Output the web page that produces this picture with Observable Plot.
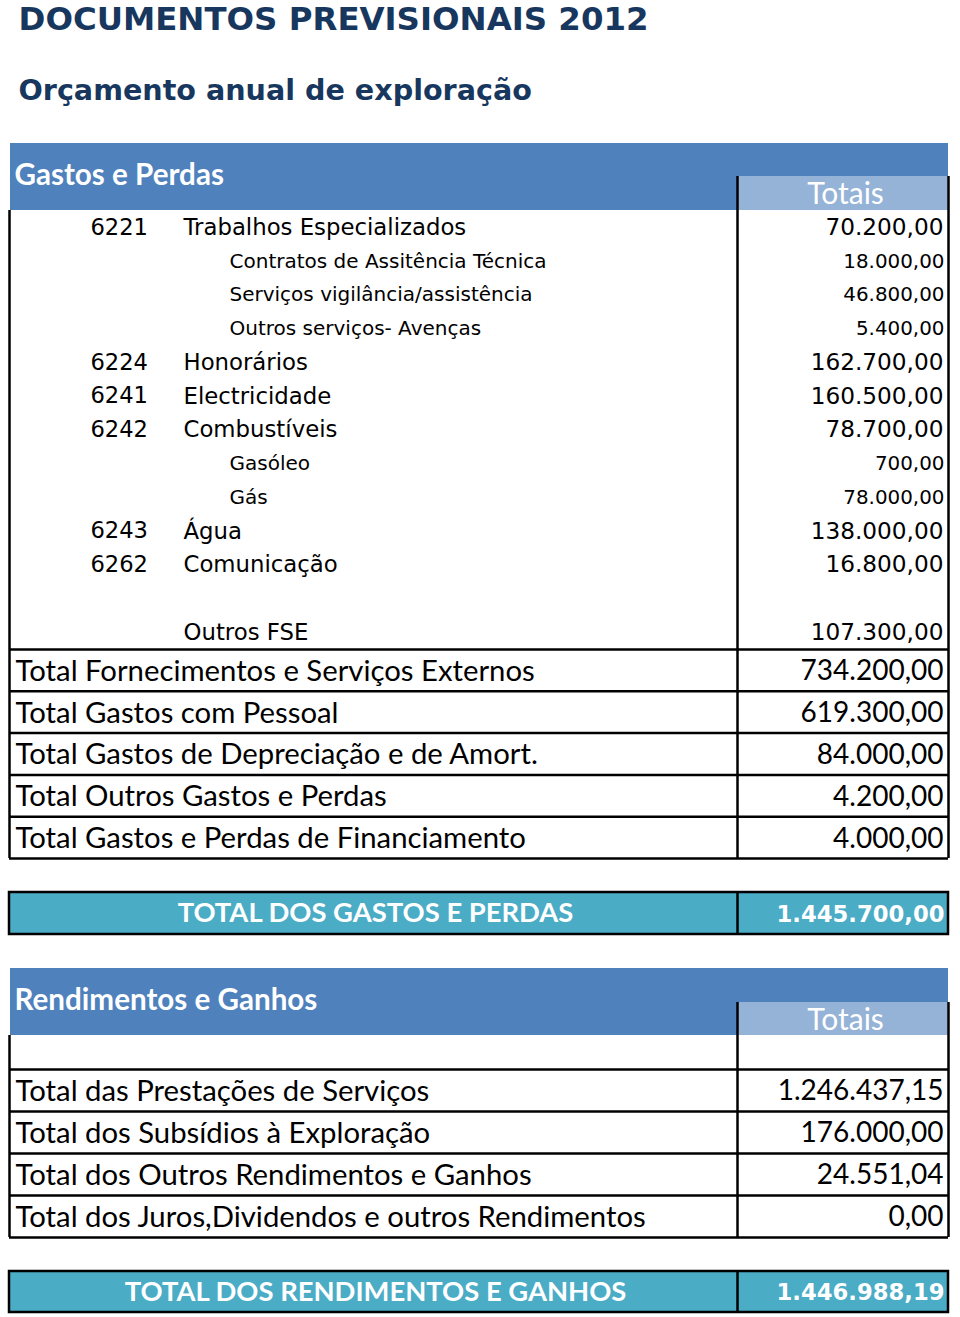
<!DOCTYPE html>
<html>
<head>
<meta charset="utf-8">
<script src="https://cdn.jsdelivr.net/npm/d3@7"></script>
<script src="https://cdn.jsdelivr.net/npm/@observablehq/plot@0.6"></script>
<style>
  html, body { margin: 0; padding: 0; background: #fff; }
  #chart svg { display: block; }
</style>
</head>
<body>
<div id="chart"></div>
<script>
// ---------- DATA ----------
const title = "DOCUMENTOS PREVISIONAIS 2012";
const subtitle = "Orçamento anual de exploração";

const gastosHeader = "Gastos e Perdas";
const rendHeader = "Rendimentos e Ganhos";
const totaisLabel = "Totais";

const detailCodes = ["6221", "", "", "", "6224", "6241", "6242", "", "", "6243", "6262", "", ""];
const detailLabels = [
  "Trabalhos Especializados",
  "Contratos de Assitência Técnica",
  "Serviços vigilância/assistência",
  "Outros serviços- Avenças",
  "Honorários",
  "Electricidade",
  "Combustíveis",
  "Gasóleo",
  "Gás",
  "Água",
  "Comunicação",
  "",
  "Outros FSE"
];
const detailLevel = [1, 2, 2, 2, 1, 1, 1, 2, 2, 1, 1, 1, 1];
const detailValues = [70200, 18000, 46800, 5400, 162700, 160500, 78700, 700, 78000, 138000, 16800, null, 107300];

const gastosTotalLabels = [
  "Total Fornecimentos e Serviços Externos",
  "Total Gastos com Pessoal",
  "Total Gastos de Depreciação e de Amort.",
  "Total Outros Gastos e Perdas",
  "Total Gastos e Perdas de Financiamento"
];
const gastosTotalValues = [734200, 619300, 84000, 4200, 4000];

const grandGastosLabel = "TOTAL DOS GASTOS E PERDAS";
const grandGastosValue = 1445700;

const rendLabels = [
  "Total das Prestações de Serviços",
  "Total dos Subsídios à Exploração",
  "Total dos Outros Rendimentos e Ganhos",
  "Total dos Juros,Dividendos e outros Rendimentos"
];
const rendValues = [1246437.15, 176000, 24551.04, 0];

const grandRendLabel = "TOTAL DOS RENDIMENTOS E GANHOS";
const grandRendValue = 1446988.19;

// ---------- LAYOUT ----------
const W = 960, H = 1317;
const L = {
  left: 9, div: 737, right: 948, valRight: 943,
  codeX: 90, lab1X: 183, lab2X: 229, totX: 15, totCenter: 845,
  g: { bandTop: 143, bandBot: 210, totTop: 176 },
  detailTop: 227, detailStep: 33.75,
  totTop: 649, totStep: 41.8,
  gg: { top: 892, bot: 934 },
  r: { bandTop: 968, bandBot: 1035, totTop: 1002, blankBot: 1069, step: 42 },
  rg: { top: 1271, bot: 1312 }
};
const navy = "#17375e", blue = "#4f81bd", light = "#95b3d7", teal = "#4bacc6";
const verdana = "DejaVu Sans, Verdana, sans-serif";
const calibri = "Lato, Carlito, Calibri, sans-serif";

const loc = d3.formatLocale({decimal: ",", thousands: ".", grouping: [3], currency: ["", ""]});
const fmt = loc.format(",.2f");

const detailY = i => L.detailTop + i * L.detailStep;
const totLine = i => L.totTop + i * L.totStep;
const totY = i => totLine(i) + L.totStep / 2;
const rLine = i => L.r.blankBot + i * L.r.step;
const rY = i => rLine(i) + L.r.step / 2;

const nTot = gastosTotalLabels.length, nR = rendLabels.length;
const gBottom = totLine(nTot);
const rBottom = rLine(nR);

const one = [{}];
const detailRows = detailLabels.map((label, i) => ({i, label, code: detailCodes[i], level: detailLevel[i], value: detailValues[i]}));

const plot = Plot.plot({
  width: W, height: H,
  margin: 0,
  x: {domain: [0, W], range: [0, W], axis: null},
  y: {domain: [0, H], range: [0, H], axis: null},
  style: {background: "#fff"},
  marks: [
    // title & subtitle
    Plot.text([title], {x: 18, y: 19.5, text: d => d, textAnchor: "start", fontFamily: verdana, fontWeight: "bold", fontSize: 32.4, fill: navy}),
    Plot.text([subtitle], {x: 18, y: 90, text: d => d, textAnchor: "start", fontFamily: verdana, fontWeight: "bold", fontSize: 28.6, fill: navy}),

    // header bands
    Plot.rect(one, {x1: L.left + 1, x2: L.right, y1: L.g.bandTop, y2: L.g.bandBot, fill: blue}),
    Plot.rect(one, {x1: L.div, x2: L.right, y1: L.g.totTop, y2: L.g.bandBot, fill: light}),
    Plot.rect(one, {x1: L.left + 1, x2: L.right, y1: L.r.bandTop, y2: L.r.bandBot, fill: blue}),
    Plot.rect(one, {x1: L.div, x2: L.right, y1: L.r.totTop, y2: L.r.bandBot, fill: light}),
    Plot.text([gastosHeader], {x: L.totX - 1, y: (L.g.bandTop + L.g.bandBot) / 2 - 1, text: d => d, textAnchor: "start", fontFamily: calibri, fontWeight: "bold", fontSize: 29.6, fill: "#fff"}),
    Plot.text([rendHeader], {x: L.totX - 1, y: (L.r.bandTop + L.r.bandBot) / 2 - 1, text: d => d, textAnchor: "start", fontFamily: calibri, fontWeight: "bold", fontSize: 29.6, fill: "#fff"}),
    Plot.text([totaisLabel], {x: L.totCenter, y: (L.g.totTop + L.g.bandBot) / 2 + 1, text: d => d, fontFamily: calibri, fontSize: 30, fill: "#fff"}),
    Plot.text([totaisLabel], {x: L.totCenter, y: (L.r.totTop + L.r.bandBot) / 2 + 1, text: d => d, fontFamily: calibri, fontSize: 30, fill: "#fff"}),

    // detail rows
    Plot.text(detailRows.filter(d => d.code), {x: L.codeX, y: d => detailY(d.i), text: "code", textAnchor: "start", fontFamily: verdana, fontSize: 22.6, fill: "#000"}),
    Plot.text(detailRows.filter(d => d.level === 1 && d.label), {x: L.lab1X, y: d => detailY(d.i), text: "label", textAnchor: "start", fontFamily: verdana, fontSize: 22.8, fill: "#000"}),
    Plot.text(detailRows.filter(d => d.level === 2), {x: L.lab2X, y: d => detailY(d.i), text: "label", textAnchor: "start", fontFamily: verdana, fontSize: 20, fill: "#000"}),
    Plot.text(detailRows.filter(d => d.value != null && d.level === 1), {x: L.valRight, y: d => detailY(d.i), text: d => fmt(d.value), textAnchor: "end", fontFamily: verdana, fontSize: 23.2, fill: "#000"}),
    Plot.text(detailRows.filter(d => d.value != null && d.level === 2), {x: L.valRight + 1, y: d => detailY(d.i), text: d => fmt(d.value), textAnchor: "end", fontFamily: verdana, fontSize: 19.9, fill: "#000"}),

    // gastos total rows
    Plot.text(gastosTotalLabels, {x: L.totX, y: (d, i) => totY(i) + 1, text: d => d, textAnchor: "start", fontFamily: calibri, fontSize: 29.3, fill: "#000"}),
    Plot.text(gastosTotalValues, {x: L.valRight, y: (d, i) => totY(i) + 1, text: d => fmt(d), textAnchor: "end", fontFamily: calibri, fontSize: 28, fill: "#000"}),

    // gastos grid
    Plot.ruleY(d3.range(nTot + 1), {y: i => totLine(i), x1: L.left, x2: L.right, stroke: "#000", strokeWidth: 2.5}),
    Plot.ruleX([L.left], {x: d => d, y1: L.g.bandBot, y2: gBottom, stroke: "#000", strokeWidth: 2.5}),
    Plot.ruleX([L.div, L.right], {x: d => d, y1: L.g.totTop, y2: gBottom, stroke: "#000", strokeWidth: 2.5}),

    // grand total gastos
    Plot.rect(one, {x1: L.left, x2: L.right, y1: L.gg.top, y2: L.gg.bot, fill: teal, stroke: "#000", strokeWidth: 2.5}),
    Plot.ruleX([L.div], {x: d => d, y1: L.gg.top, y2: L.gg.bot, stroke: "#000", strokeWidth: 2.5}),
    Plot.text([grandGastosLabel], {x: (L.left + L.div) / 2 + 2, y: (L.gg.top + L.gg.bot) / 2, text: d => d, fontFamily: calibri, fontWeight: "bold", fontSize: 27.4, fill: "#fff"}),
    Plot.text([grandGastosValue], {x: L.valRight + 1, y: (L.gg.top + L.gg.bot) / 2 + 1, text: d => fmt(d), textAnchor: "end", fontFamily: verdana, fontWeight: "bold", fontSize: 22.7, fill: "#fff"}),

    // rendimentos rows
    Plot.text(rendLabels, {x: L.totX, y: (d, i) => rY(i) + 1, text: d => d, textAnchor: "start", fontFamily: calibri, fontSize: 29.3, fill: "#000"}),
    Plot.text(rendValues, {x: L.valRight, y: (d, i) => rY(i) + 1, text: d => fmt(d), textAnchor: "end", fontFamily: calibri, fontSize: 28, fill: "#000"}),
    Plot.ruleY(d3.range(nR + 1), {y: i => rLine(i), x1: L.left, x2: L.right, stroke: "#000", strokeWidth: 2.5}),
    Plot.ruleX([L.left], {x: d => d, y1: L.r.bandBot, y2: rBottom, stroke: "#000", strokeWidth: 2.5}),
    Plot.ruleX([L.div, L.right], {x: d => d, y1: L.r.totTop, y2: rBottom, stroke: "#000", strokeWidth: 2.5}),

    // grand total rendimentos
    Plot.rect(one, {x1: L.left, x2: L.right, y1: L.rg.top, y2: L.rg.bot, fill: teal, stroke: "#000", strokeWidth: 2.5}),
    Plot.ruleX([L.div], {x: d => d, y1: L.rg.top, y2: L.rg.bot, stroke: "#000", strokeWidth: 2.5}),
    Plot.text([grandRendLabel], {x: (L.left + L.div) / 2 + 2, y: (L.rg.top + L.rg.bot) / 2, text: d => d, fontFamily: calibri, fontWeight: "bold", fontSize: 27.4, fill: "#fff"}),
    Plot.text([grandRendValue], {x: L.valRight + 1, y: (L.rg.top + L.rg.bot) / 2 + 1, text: d => fmt(d), textAnchor: "end", fontFamily: verdana, fontWeight: "bold", fontSize: 22.7, fill: "#fff"})
  ]
});
document.getElementById("chart").appendChild(plot);
</script>
</body>
</html>
